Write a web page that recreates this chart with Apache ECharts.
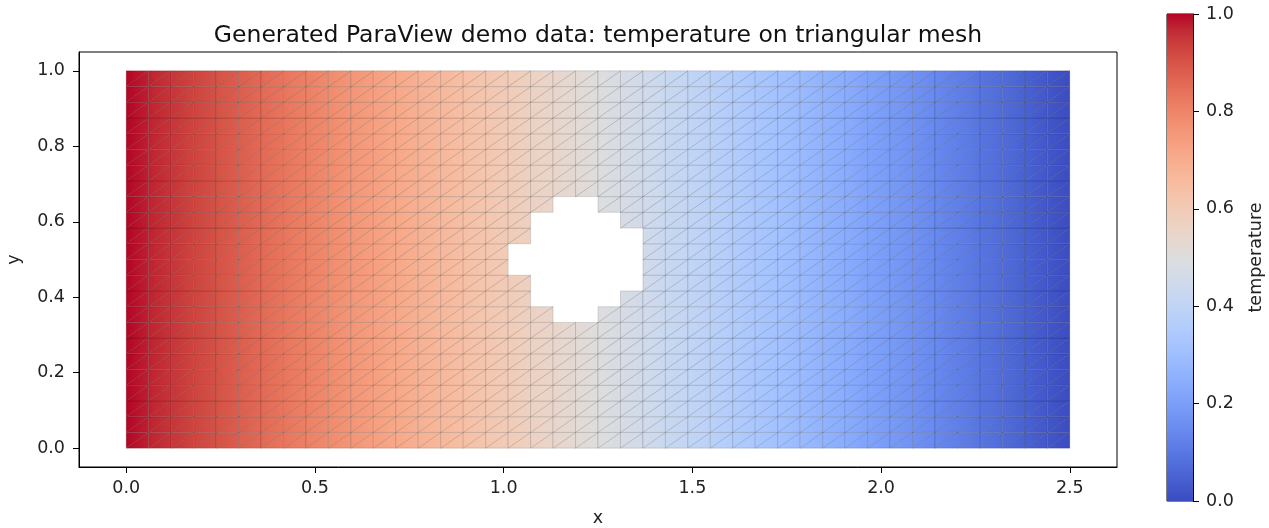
<!DOCTYPE html>
<html><head><meta charset="utf-8">
<script src="https://cdn.jsdelivr.net/npm/echarts@6/dist/echarts.min.js"></script>
<style>html,body{margin:0;padding:0;background:#fff;}#c{width:1269px;height:528px;}</style>
</head><body><div id="c"></div>
<script>
// ---- mesh node coordinates (42 x 24 cells) ----
const xNodes = [0, 0.0595, 0.119, 0.1786, 0.2381, 0.2976, 0.3571, 0.4167, 0.4762, 0.5357,
  0.5952, 0.6548, 0.7143, 0.7738, 0.8333, 0.8929, 0.9524, 1.0119, 1.0714, 1.131,
  1.1905, 1.25, 1.3095, 1.369, 1.4286, 1.4881, 1.5476, 1.6071, 1.6667, 1.7262,
  1.7857, 1.8452, 1.9048, 1.9643, 2.0238, 2.0833, 2.1429, 2.2024, 2.2619, 2.3214,
  2.381, 2.4405, 2.5];
const yNodes = [0, 0.0417, 0.0833, 0.125, 0.1667, 0.2083, 0.25, 0.2917, 0.3333, 0.375,
  0.4167, 0.4583, 0.5, 0.5417, 0.5833, 0.625, 0.6667, 0.7083, 0.75, 0.7917,
  0.8333, 0.875, 0.9167, 0.9583, 1.0];
// temperature of each node column (left -> right)
const nodeTemperature = [1.000, 0.976, 0.952, 0.929, 0.905, 0.881, 0.857, 0.833, 0.810, 0.786,
  0.762, 0.738, 0.714, 0.690, 0.667, 0.643, 0.619, 0.595, 0.571, 0.548,
  0.524, 0.500, 0.476, 0.452, 0.429, 0.405, 0.381, 0.357, 0.333, 0.310,
  0.286, 0.262, 0.238, 0.214, 0.190, 0.167, 0.143, 0.119, 0.095, 0.071,
  0.048, 0.024, 0.000];
// hole: removed cells per row j -> [row, first column, last column]
const holeRows = [[8, 19, 20], [9, 18, 21], [10, 18, 22], [11, 17, 22], [12, 17, 22], [13, 18, 22], [14, 18, 21], [15, 19, 20]];
// axis ticks
const xTicks = [0, 0.5, 1.0, 1.5, 2.0, 2.5];
const yTicks = [0, 0.2, 0.4, 0.6, 0.8, 1.0];
const cbTicks = [0, 0.2, 0.4, 0.6, 0.8, 1.0];

// coolwarm colormap (Moreland 33-point table)
const coolwarm = [[59,76,192],[68,90,204],[77,104,215],[87,117,225],[98,130,234],[108,142,241],[119,154,247],[130,165,251],[141,176,254],[152,185,255],[163,194,255],[174,201,253],[184,208,249],[194,213,244],[204,217,238],[213,219,230],[221,221,221],[229,216,209],[236,211,197],[241,204,184],[245,196,172],[247,187,159],[247,177,147],[247,166,134],[244,154,123],[241,141,111],[236,127,99],[229,112,89],[222,96,79],[213,80,69],[203,62,60],[192,40,51],[180,4,38]];
function cmap(t){
  t = Math.max(0, Math.min(1, t));
  const f = t * (coolwarm.length - 1);
  const i = Math.min(coolwarm.length - 2, Math.floor(f));
  const u = f - i;
  const a = coolwarm[i], b = coolwarm[i+1];
  return 'rgb(' + [0,1,2].map(k => Math.round(a[k] + (b[k]-a[k])*u)).join(',') + ')';
}

// build triangle list
const isHole = {};
holeRows.forEach(r => { for (let i = r[1]; i <= r[2]; i++) isHole[r[0] + '_' + i] = true; });
const triangles = [];
for (let j = 0; j < yNodes.length - 1; j++) {
  for (let i = 0; i < xNodes.length - 1; i++) {
    if (isHole[j + '_' + i]) continue;
    const x0 = xNodes[i], x1 = xNodes[i+1], y0 = yNodes[j], y1 = yNodes[j+1];
    const t0 = nodeTemperature[i], t1 = nodeTemperature[i+1];
    triangles.push([x0, y0, x1, y0, x1, y1, t0, t1]);
    triangles.push([x0, y0, x1, y1, x0, y1, t0, t1]);
  }
}

const chart = echarts.init(document.getElementById('c'), null, {renderer: 'canvas'});
const font = 'DejaVu Sans';
const FS = 17.5;
const axisCommon = {
  axisLine: {show: true, onZero: false, lineStyle: {color: '#000', width: 1}},
  axisTick: {show: true, length: 6, lineStyle: {color: '#000', width: 1}},
  splitLine: {show: false},
  axisLabel: {color: '#222', fontFamily: font, fontSize: FS, formatter: v => Number(v).toFixed(1)},
  nameTextStyle: {color: '#222', fontFamily: font, fontSize: FS}
};
function gradStops(ta, tb){
  const n = 4, stops = [];
  for (let k = 0; k <= n; k++) stops.push({offset: k/n, color: cmap(ta + (tb-ta)*k/n)});
  return stops;
}
const option = {
  animation: false,
  backgroundColor: '#fff',
  title: {text: 'Generated ParaView demo data: temperature on triangular mesh', left: 593, top: 19, textAlign: 'center',
    textStyle: {fontFamily: font, fontSize: 23.5, fontWeight: 'normal', color: '#111'}},
  grid: [
    {left: 79, top: 52, width: 1038, height: 415, show: true, borderColor: '#000', borderWidth: 1, backgroundColor: 'transparent', outerBoundsMode: 'none', containLabel: false},
    {left: 1167, top: 14, width: 26, height: 487, show: true, borderColor: '#000', borderWidth: 1, backgroundColor: 'transparent', outerBoundsMode: 'none', containLabel: false}
  ],
  xAxis: [
    Object.assign({}, axisCommon, {type: 'value', gridIndex: 0, min: -0.125, max: 2.625, name: 'x', nameLocation: 'middle', nameGap: 42,
      axisTick: Object.assign({}, axisCommon.axisTick, {customValues: xTicks}),
      axisLabel: Object.assign({}, axisCommon.axisLabel, {customValues: xTicks, margin: 12})}),
    {type: 'value', gridIndex: 1, min: 0, max: 1, show: false}
  ],
  yAxis: [
    Object.assign({}, axisCommon, {type: 'value', gridIndex: 0, min: -0.05, max: 1.05, name: 'y', nameLocation: 'middle', nameGap: 56, nameRotate: 90,
      axisTick: Object.assign({}, axisCommon.axisTick, {customValues: yTicks}),
      axisLabel: Object.assign({}, axisCommon.axisLabel, {customValues: yTicks, margin: 14})}),
    Object.assign({}, axisCommon, {type: 'value', gridIndex: 1, position: 'right', min: 0, max: 1, name: 'temperature', nameLocation: 'middle', nameGap: 54, nameRotate: 90,
      axisTick: Object.assign({}, axisCommon.axisTick, {customValues: cbTicks}),
      axisLabel: Object.assign({}, axisCommon.axisLabel, {customValues: cbTicks, margin: 13})})
  ],
  series: [
    {
      type: 'custom', xAxisIndex: 0, yAxisIndex: 0, progressive: 0, silent: true, clip: true,
      data: triangles,
      renderItem: function(params, api){
        const pts = [api.coord([api.value(0), api.value(1)]), api.coord([api.value(2), api.value(3)]), api.coord([api.value(4), api.value(5)])];
        const ta = api.value(6), tb = api.value(7);
        return {type: 'polygon', shape: {points: pts},
          style: {fill: new echarts.graphic.LinearGradient(0, 0, 1, 0, gradStops(ta, tb)), stroke: 'rgba(0,0,0,0.22)', lineWidth: 0.6}};
      }
    },
    {
      type: 'custom', xAxisIndex: 1, yAxisIndex: 1, silent: true,
      data: [[0, 0, 1, 1]],
      renderItem: function(params, api){
        const p0 = api.coord([api.value(0), api.value(1)]);
        const p1 = api.coord([api.value(2), api.value(3)]);
        const stops = [];
        for (let k = 0; k <= 32; k++) stops.push({offset: k/32, color: cmap(1 - k/32)});
        return {type: 'rect', shape: {x: p0[0], y: p1[1], width: p1[0]-p0[0], height: p0[1]-p1[1]},
          style: {fill: new echarts.graphic.LinearGradient(0, 0, 0, 1, stops)}};
      }
    }
  ]
};
chart.setOption(option);
</script></body></html>
